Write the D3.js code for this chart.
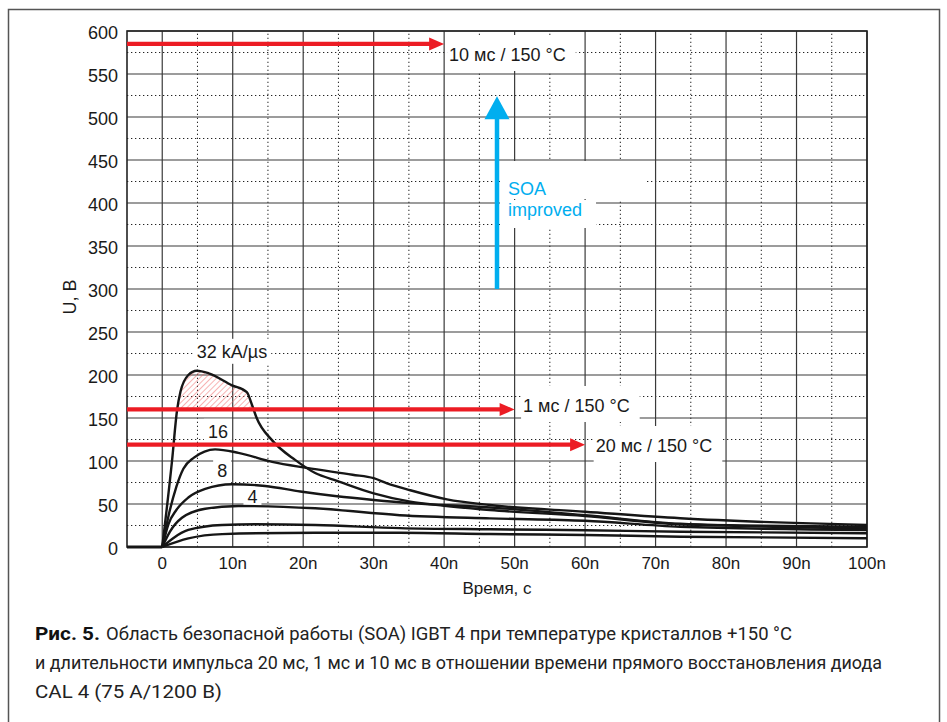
<!DOCTYPE html>
<html lang="ru">
<head>
<meta charset="utf-8">
<script src="https://cdn.jsdelivr.net/npm/d3@7"></script>
<style type="text/css">
body { margin: 0; background: #fff; }
svg text { font-family: "Liberation Sans", Arial, sans-serif; fill: #1a1a1a; }
</style>
</head>
<body>
<script type="text/javascript">

// size of the page
var width = 947;
var height = 722;

// axis ticks
var xTicks = [0, 10, 20, 30, 40, 50, 60, 70, 80, 90, 100];
var xTickLabels = ["0", "10n", "20n", "30n", "40n", "50n", "60n", "70n", "80n", "90n", "100n"];
var yTicks = [0, 50, 100, 150, 200, 250, 300, 350, 400, 450, 500, 550, 600];

// recovery curves, [time ns, voltage V]
var curve32 = [[0,0],[1.4,101],[2.1,159],[2.6,181],[3.7,200],[4.9,205],[6.6,202],[9.9,188],[12,180],[12.7,166],[13.4,150],[15.6,124],[18.9,101],[21.7,86],[24.8,77],[30,62.4],[35.2,52.7],[40,48],[46.5,43],[60,36],[73.5,26.5],[100,23.6]];
var curve16 = [[0,0],[1,40],[2,70],[3,91],[4.5,104],[6,111],[7.5,113.5],[10.8,109.5],[15.6,99],[20.5,92],[27,84],[30,80],[31.9,74],[35.2,66],[40.4,55.4],[46.5,48.8],[60,41],[73.5,33.4],[100,25.6]];
var curve8  = [[0,0],[0.9,27],[2,43],[3.7,57.5],[6.1,67.5],[9.9,73],[14.6,71],[19.6,64.5],[24.8,59],[30,54.7],[35.2,51],[46.5,46],[60,37],[73.5,27],[100,21.7]];
var curve4  = [[0,0],[1.1,18],[2.8,34],[6.1,44.5],[10.8,47.7],[21.7,45],[33.7,37],[46.5,33.3],[60,30.5],[73.5,23.6],[100,19.8]];
var curve2  = [[0,0],[1.5,10],[3.7,19.8],[8.5,25.6],[13.2,26.4],[21.7,25.6],[33.7,22],[46.5,20.6],[60,19.5],[73.5,17.8],[100,16]];
var curve1  = [[0,0],[3.7,10],[8.5,15],[21.7,16.6],[33.7,16.6],[46.5,15.1],[60,14],[73.5,12],[100,10.1]];
var preZero = [[-5,0],[0,0]];

// pulse limits (red arrows)
var limitLabels = ["10 мс / 150 °C", "1 мс / 150 °C", "20 мс / 150 °C"];
var limitVoltages = [585, 160, 119];
var limitEnds = [40, 50, 60];

// SOA arrow
var soaTime = 47.5;
var soaFrom = 300;
var soaTo = 524;

var captionBold = "Рис. 5.";
var captionLines = [
	"Область безопасной работы (SOA) IGBT 4 при температуре кристаллов +150 °C",
	"и длительности импульса 20 мс, 1 мс и 10 мс в отношении времени прямого восстановления диода",
	"CAL 4 (75 A/1200 B)"
];

var red = "#ec1c24";
var blue = "#00aeef";

var x = d3.scaleLinear().domain([-5, 100]).range([127, 867]);
var y = d3.scaleLinear().domain([0, 600]).range([547, 31]);

var svg = d3.select("body").append("svg")
	.attr("width", width)
	.attr("height", height);

// outer frame
svg.append("rect")
	.attr("x", 8.5).attr("y", 9.5)
	.attr("width", 931).attr("height", 740)
	.attr("fill", "none")
	.attr("stroke", "#555")
	.attr("stroke-width", 1.5);

// hatch pattern
var defs = svg.append("defs");
defs.append("pattern")
	.attr("id", "hatch")
	.attr("width", 4).attr("height", 4)
	.attr("patternUnits", "userSpaceOnUse")
	.attr("patternTransform", "rotate(45)")
	.append("line")
	.attr("x1", 0).attr("y1", 0).attr("x2", 0).attr("y2", 4)
	.attr("stroke", "#f06868")
	.attr("stroke-width", 1);
defs.append("clipPath").attr("id", "above1ms")
	.append("rect")
	.attr("x", x(-5)).attr("y", y(600))
	.attr("width", x(100) - x(-5))
	.attr("height", y(160) - y(600));

// grid: minor dotted
var grid = svg.append("g");
var minorX = d3.range(5, 100, 10);
var minorY = d3.range(25, 600, 50);
grid.selectAll(".mx").data(minorX).enter().append("line")
	.attr("x1", d => x(d)).attr("x2", d => x(d))
	.attr("y1", y(0)).attr("y2", y(600))
	.attr("stroke", "#222").attr("stroke-width", 1)
	.attr("stroke-dasharray", "1.3,2.7");
grid.selectAll(".my").data(minorY).enter().append("line")
	.attr("x1", x(-5)).attr("x2", x(100))
	.attr("y1", d => y(d)).attr("y2", d => y(d))
	.attr("stroke", "#222").attr("stroke-width", 1)
	.attr("stroke-dasharray", "1.3,2.7");
// grid: major solid
grid.selectAll(".gx").data(xTicks).enter().append("line")
	.attr("x1", d => x(d)).attr("x2", d => x(d))
	.attr("y1", y(0)).attr("y2", y(600))
	.attr("stroke", "#3a3a3a").attr("stroke-width", 1.2);
grid.selectAll(".gy").data(yTicks).enter().append("line")
	.attr("x1", x(-5)).attr("x2", x(100))
	.attr("y1", d => y(d)).attr("y2", d => y(d))
	.attr("stroke", "#3a3a3a").attr("stroke-width", 1.2);

// white label backgrounds go here (filled later)
var bg = svg.append("g");

// plot frame
svg.append("rect")
	.attr("x", x(-5)).attr("y", y(600))
	.attr("width", x(100) - x(-5)).attr("height", y(0) - y(600))
	.attr("fill", "none").attr("stroke", "#222").attr("stroke-width", 1.6);

// hatched area above 1 ms limit
svg.append("path")
	.datum(curve32.filter(d => d[0] <= 16))
	.attr("clip-path", "url(#above1ms)")
	.attr("fill", "url(#hatch)")
	.attr("d", d3.area()
		.x(d => x(d[0]))
		.y0(y(160))
		.y1(d => y(d[1]))
		.curve(d3.curveMonotoneX));

// curves
var line = d3.line()
	.x(d => x(d[0]))
	.y(d => y(d[1]))
	.curve(d3.curveMonotoneX);
var curves = [curve32, curve16, curve8, curve4, curve2, curve1];
svg.selectAll(".curve").data(curves).enter().append("path")
	.attr("fill", "none")
	.attr("stroke", "#161616")
	.attr("stroke-width", 2.4)
	.attr("stroke-linejoin", "round")
	.attr("d", line);
svg.append("path").datum(preZero)
	.attr("fill", "none").attr("stroke", "#161616").attr("stroke-width", 3)
	.attr("d", d3.line().x(d => x(d[0])).y(d => y(d[1])));

// red limit arrows
limitVoltages.forEach(function(v, i) {
	var tip = x(limitEnds[i]);
	var yy = y(v);
	svg.append("line")
		.attr("x1", x(-5)).attr("x2", tip - 12)
		.attr("y1", yy).attr("y2", yy)
		.attr("stroke", red).attr("stroke-width", 4.2);
	svg.append("path")
		.attr("d", "M" + tip + "," + yy + "L" + (tip - 15) + "," + (yy - 6.5) + "L" + (tip - 15) + "," + (yy + 6.5) + "Z")
		.attr("fill", red);
});

// blue SOA arrow
var sx = x(soaTime);
svg.append("line")
	.attr("x1", sx).attr("x2", sx)
	.attr("y1", y(soaFrom)).attr("y2", y(soaTo) + 20)
	.attr("stroke", blue).attr("stroke-width", 4.5);
svg.append("path")
	.attr("d", "M" + sx + "," + y(soaTo) + "L" + (sx - 12.5) + "," + (y(soaTo) + 23) + "L" + (sx + 12.5) + "," + (y(soaTo) + 23) + "Z")
	.attr("fill", blue);

// labels with white boxes
var labels = svg.append("g");
function boxed(t, pad) {
	var b = t.node().getBBox();
	bg.append("rect")
		.attr("x", b.x - pad[0]).attr("y", b.y - pad[1])
		.attr("width", b.width + pad[0] + pad[2])
		.attr("height", b.height + pad[1] + pad[3])
		.attr("fill", "#fff");
}

var limitPos = [[40.7, 61], [51.2, 412], [61.5, 452]];
limitLabels.forEach(function(s, i) {
	var t = labels.append("text")
		.attr("x", x(limitPos[i][0])).attr("y", limitPos[i][1])
		.style("font-size", "18px")
		.text(s);
	boxed(t, [2, 10, 10, 6]);
});

var soa1 = labels.append("text").attr("x", sx + 11).attr("y", 195)
	.style("font-size", "18px").style("fill", blue).text("SOA");
var soa2 = labels.append("text").attr("x", sx + 11).attr("y", 216)
	.style("font-size", "18px").style("fill", blue).text("improved");
boxed(soa1, [8, 18, 100, 0]);
boxed(soa2, [8, 0, 14, 8]);

var curveLabels = ["32 kA/µs", "16", "8", "4"];
var curveLabelPos = [[9.9, 220], [7.9, 127], [8.5, 81], [12.8, 51]];
curveLabels.forEach(function(s, i) {
	var t = labels.append("text")
		.attr("x", x(curveLabelPos[i][0])).attr("y", y(curveLabelPos[i][1]))
		.attr("text-anchor", "middle")
		.style("font-size", "18px")
		.text(s);
	boxed(t, [4, 3, 4, 2]);
});

// axes labels
svg.selectAll(".yl").data(yTicks).enter().append("text")
	.attr("x", 118).attr("y", d => y(d) + 2)
	.attr("dy", "0.35em")
	.attr("text-anchor", "end")
	.style("font-size", "18px")
	.text(d => d);
svg.selectAll(".xl").data(xTicks).enter().append("text")
	.attr("x", d => x(d)).attr("y", 563)
	.attr("dy", "0.35em")
	.attr("text-anchor", "middle")
	.style("font-size", "17px")
	.text((d, i) => xTickLabels[i]);
svg.append("text")
	.attr("x", x(47.5)).attr("y", 588)
	.attr("dy", "0.35em")
	.attr("text-anchor", "middle")
	.style("font-size", "17px")
	.text("Время, с");
svg.append("text")
	.attr("transform", "translate(70," + 297 + ") rotate(-90)")
	.attr("dy", "0.35em")
	.attr("text-anchor", "middle")
	.style("font-size", "18px")
	.text("U, В");

// caption
var cap = svg.append("g");
cap.append("text")
	.attr("x", 35).attr("y", 640)
	.attr("textLength", 65).attr("lengthAdjust", "spacingAndGlyphs")
	.style("font-family", "Roboto, sans-serif")
	.style("font-weight", "bold").style("font-size", "19px").style("fill", "#111")
	.text(captionBold);
var capEnds = [792, 882, 222];
var capStarts = [106, 35, 35];
var capY = [640, 669, 698];
captionLines.forEach(function(s, i) {
	cap.append("text")
		.attr("x", capStarts[i]).attr("y", capY[i])
		.attr("textLength", capEnds[i] - capStarts[i])
		.attr("lengthAdjust", "spacingAndGlyphs")
		.style("font-family", "Roboto, sans-serif")
		.style("font-size", "19px").style("fill", "#222")
		.text(s);
});

</script>
</body>
</html>
